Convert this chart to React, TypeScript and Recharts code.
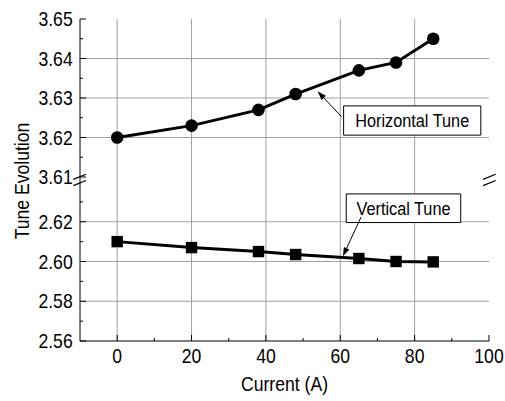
import React from 'react';
import { LineChart, Line, XAxis, YAxis, CartesianGrid, ReferenceArea, ReferenceLine } from 'recharts';

// ---- data ----
const current = [0, 20, 38, 48, 65, 75, 85];
const horizontalTune = [3.62, 3.623, 3.627, 3.631, 3.637, 3.639, 3.645];
const verticalTune = [2.61, 2.607, 2.605, 2.6035, 2.6015, 2.6, 2.5998];

const xTicks = [0, 20, 40, 60, 80, 100];
const xMinorTicks = [10, 30, 50, 70, 90];
const xGrid = [0, 20, 40, 60, 80];
const upperTicks = [3.61, 3.62, 3.63, 3.64, 3.65];
const upperMinor = [3.615, 3.625, 3.635, 3.645];
const upperGrid = [3.62, 3.63, 3.64];
const lowerTicks = [2.56, 2.58, 2.6, 2.62];
const lowerMinor = [2.57, 2.59, 2.61, 2.63];
const lowerGrid = [2.58, 2.6, 2.62];

const hData = current.map((c, i) => ({ current: c, value: horizontalTune[i] }));
const vData = current.map((c, i) => ({ current: c, value: verticalTune[i] }));

const allX = [...xTicks, ...xMinorTicks].sort((a, b) => a - b);
const allUpper = [...upperTicks, ...upperMinor].sort((a, b) => a - b);
const allLower = [...lowerTicks, ...lowerMinor].sort((a, b) => a - b);

// ---- style ----
const FONT = '"Liberation Sans", Arial, sans-serif';
const SX = 0.88;
const GRID = '#a0a0a0';
const BLACK = '#000';
const X_DOMAIN: [number, number] = [-10, 100];
const UPPER_DOMAIN: [number, number] = [3.60873, 3.65];
const LOWER_DOMAIN: [number, number] = [2.56, 2.64];
const MAJOR = 6;
const MINOR = 3;
const LEFT_MARGIN = 7.3;
const BOTTOM_MARGIN = 8;

function CText({ x, y, anchor = 'middle', dy = '0.355em', size = 20, rotate = 0, children }: any) {
  const t = `translate(${x},${y})` + (rotate ? ` rotate(${rotate})` : '') + ` scale(${SX},1)`;
  return (
    <g transform={t}>
      <text x={0} y={0} dy={dy} textAnchor={anchor} fontSize={size} fontFamily={FONT} fill={BLACK}>
        {children}
      </text>
    </g>
  );
}

const isIn = (v: number, arr: number[]) => arr.some((m) => Math.abs(m - v) < 1e-9);

// tick renderers: draw inward tick marks (and labels for the major ones)
const leftTick = (majors: number[], label: boolean) => (props: any) => {
  const v = Number(props.payload.value);
  const major = isIn(v, majors);
  const ax = props.x + LEFT_MARGIN;
  const len = major ? MAJOR : MINOR;
  return (
    <g>
      <line x1={ax} y1={props.y} x2={ax + len} y2={props.y} stroke={BLACK} strokeWidth={1} />
      {label && major ? (
        <CText x={props.x} y={props.y} anchor="end">
          {v.toFixed(2)}
        </CText>
      ) : null}
    </g>
  );
};
const rightTick = (majors: number[]) => (props: any) => {
  const v = Number(props.payload.value);
  const len = isIn(v, majors) ? MAJOR : MINOR;
  return <line x1={props.x} y1={props.y} x2={props.x - len} y2={props.y} stroke={BLACK} strokeWidth={1} />;
};
const bottomTick = (props: any) => {
  const v = Number(props.payload.value);
  const major = isIn(v, xTicks);
  const ay = props.y - BOTTOM_MARGIN;
  const len = major ? MAJOR : MINOR;
  return (
    <g>
      <line x1={props.x} y1={ay} x2={props.x} y2={ay - len} stroke={BLACK} strokeWidth={1} />
      {major ? (
        <CText x={props.x} y={props.y} anchor="middle" dy="0.71em">
          {v}
        </CText>
      ) : null}
    </g>
  );
};
const topTick = (props: any) => {
  const v = Number(props.payload.value);
  const len = isIn(v, xTicks) ? MAJOR : MINOR;
  return <line x1={props.x} y1={props.y} x2={props.x} y2={props.y + len} stroke={BLACK} strokeWidth={1} />;
};

const Arrow = (p: any) => {
  const { x1, y1, x2, y2 } = p;
  const ang = Math.atan2(y2 - y1, x2 - x1);
  const L = 9;
  const W = 3;
  const bx = x2 - L * Math.cos(ang);
  const by = y2 - L * Math.sin(ang);
  const nx = -Math.sin(ang) * W;
  const ny = Math.cos(ang) * W;
  return (
    <g>
      <line x1={x1} y1={y1} x2={bx} y2={by} stroke={BLACK} strokeWidth={1} />
      <polygon points={`${x2},${y2} ${bx + nx},${by + ny} ${bx - nx},${by - ny}`} fill={BLACK} />
    </g>
  );
};
const BreakMark = (p: any) => (
  <line x1={p.x1} y1={p.y1} x2={p.x2} y2={p.y2} stroke={BLACK} strokeWidth={1.2} />
);

const boxLabel = (text: string) => (p: any) => {
  const vb = p.viewBox;
  return (
    <CText x={vb.x + vb.width / 2} y={vb.y + vb.height / 2} size={18.5}>
      {text}
    </CText>
  );
};

const axisLine = { stroke: BLACK, strokeWidth: 1 };

// annotation geometry (data coordinates)
const hBox = { x1: 60.9, x2: 97.8, y1: 3.6206, y2: 3.628 };
const hArrow = [{ x: 60.3, y: 3.6253 }, { x: 53.9, y: 3.6317 }];
const vBox = { x1: 61.6, x2: 92.4, y1: 2.6196, y2: 2.634 };
const vArrow = [{ x: 65.6, y: 2.6224 }, { x: 60.7, y: 2.6026 }];
const breaks = [
  [{ x: -11.8, y: 3.6094 }, { x: -8.4, y: 3.6107 }],
  [{ x: -11.8, y: 3.6078 }, { x: -8.4, y: 3.6091 }],
  [{ x: 98.4, y: 3.6094 }, { x: 101.8, y: 3.6107 }],
  [{ x: 98.4, y: 3.6078 }, { x: 101.8, y: 3.6091 }],
];

export default function App() {
  return (
    <div style={{ position: 'absolute', left: 0, top: 0, width: 505, height: 401, background: '#fff' }}>
      {/* lower segment */}
      <LineChart
        width={505}
        height={401}
        data={vData}
        margin={{ top: 182, right: 16, bottom: 0, left: 0 }}
        style={{ position: 'absolute', left: 0, top: 0 }}
      >
        <CartesianGrid stroke={GRID} strokeWidth={1} horizontalValues={lowerGrid} verticalValues={xGrid} />
        <XAxis
          type="number"
          dataKey="current"
          domain={X_DOMAIN}
          ticks={allX}
          interval={0}
          allowDataOverflow
          height={60}
          tickSize={0}
          tickMargin={BOTTOM_MARGIN}
          axisLine={axisLine}
          tickLine={false}
          tick={bottomTick}
          label={(p: any) => (
            <CText x={p.viewBox.x + p.viewBox.width / 2} y={p.viewBox.y + 43} size={20}>
              Current (A)
            </CText>
          )}
        />
        <YAxis
          type="number"
          domain={LOWER_DOMAIN}
          ticks={allLower}
          interval={0}
          allowDataOverflow
          width={80}
          tickSize={0}
          tickMargin={LEFT_MARGIN}
          axisLine={axisLine}
          tickLine={false}
          tick={leftTick(lowerTicks, true)}
        />
        <YAxis
          yAxisId="r"
          orientation="right"
          type="number"
          domain={LOWER_DOMAIN}
          ticks={allLower}
          interval={0}
          allowDataOverflow
          width={0}
          tickSize={0}
          tickMargin={0}
          axisLine={axisLine}
          tickLine={false}
          tick={rightTick(lowerTicks)}
        />
        <ReferenceArea
          x1={vBox.x1}
          x2={vBox.x2}
          y1={vBox.y1}
          y2={vBox.y2}
          fill="#fff"
          fillOpacity={1}
          stroke={BLACK}
          strokeWidth={1}
          label={boxLabel('Vertical Tune')}
        />
        <ReferenceLine segment={vArrow} shape={Arrow} />
        <Line
          type="linear"
          dataKey="value"
          stroke={BLACK}
          strokeWidth={3}
          isAnimationActive={false}
          dot={(p: any) => (
            <rect key={`v-${p.index}`} x={p.cx - 5.7} y={p.cy - 5.7} width={11.4} height={11.4} fill={BLACK} />
          )}
          activeDot={false}
        />
      </LineChart>

      {/* upper segment */}
      <LineChart
        width={505}
        height={401}
        data={hData}
        margin={{ top: 19, right: 16, bottom: 219, left: 0 }}
        style={{ position: 'absolute', left: 0, top: 0 }}
      >
        <CartesianGrid stroke={GRID} strokeWidth={1} horizontalValues={upperGrid} verticalValues={xGrid} />
        <XAxis
          orientation="top"
          type="number"
          dataKey="current"
          domain={X_DOMAIN}
          ticks={allX}
          interval={0}
          allowDataOverflow
          height={0}
          tickSize={0}
          tickMargin={0}
          axisLine={axisLine}
          tickLine={false}
          tick={topTick}
        />
        <YAxis
          type="number"
          domain={UPPER_DOMAIN}
          ticks={allUpper}
          interval={0}
          allowDataOverflow
          width={80}
          tickSize={0}
          tickMargin={LEFT_MARGIN}
          axisLine={axisLine}
          tickLine={false}
          tick={leftTick(upperTicks, true)}
          label={(p: any) => (
            <CText x={p.viewBox.x + 22} y={p.viewBox.y + p.viewBox.height - 1} rotate={-90} size={20}>
              Tune Evolution
            </CText>
          )}
        />
        <YAxis
          yAxisId="r"
          orientation="right"
          type="number"
          domain={UPPER_DOMAIN}
          ticks={allUpper}
          interval={0}
          allowDataOverflow
          width={0}
          tickSize={0}
          tickMargin={0}
          axisLine={axisLine}
          tickLine={false}
          tick={rightTick(upperTicks)}
        />
        <ReferenceArea
          x1={hBox.x1}
          x2={hBox.x2}
          y1={hBox.y1}
          y2={hBox.y2}
          fill="#fff"
          fillOpacity={1}
          stroke={BLACK}
          strokeWidth={1}
          label={boxLabel('Horizontal Tune')}
        />
        <ReferenceLine segment={hArrow} shape={Arrow} />
        {breaks.map((seg, i) => (
          <ReferenceLine key={`b${i}`} segment={seg} ifOverflow="visible" shape={BreakMark} />
        ))}
        <Line
          type="linear"
          dataKey="value"
          stroke={BLACK}
          strokeWidth={3}
          isAnimationActive={false}
          dot={{ r: 6.3, fill: BLACK, stroke: 'none' }}
          activeDot={false}
        />
      </LineChart>
    </div>
  );
}
